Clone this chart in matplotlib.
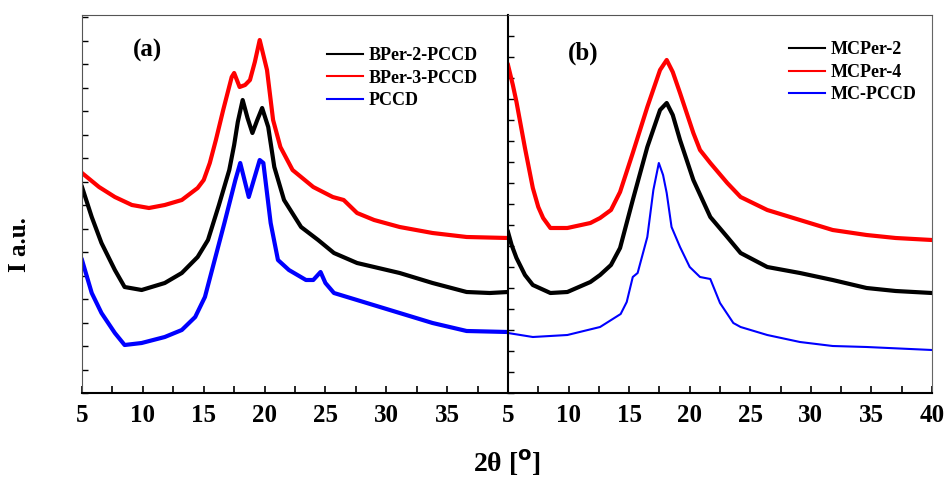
import numpy as np
import matplotlib
matplotlib.use("Agg")
import matplotlib.pyplot as plt
from matplotlib.ticker import MultipleLocator

plt.rcParams['font.family'] = ['Liberation Serif', 'DejaVu Serif']
plt.rcParams['font.weight'] = 'bold'

# panel (a)
a_bper2_x = [5, 5.8, 6.6, 7.7, 8.5, 9.9, 11.8, 13.2, 14.5, 15.35, 16.25, 17.1, 17.5, 17.8, 18.2,
             18.6, 19.0, 19.4, 19.8, 20.3, 20.8, 21.6, 23.0, 24.4, 25.7, 27.6, 31.1, 33.8, 36.6, 38.5, 40]
a_bper2_y = [206, 176, 150, 123, 106, 103, 110, 120, 136, 153, 188, 223, 248, 271, 293,
             275, 260, 273, 285, 266, 226, 193, 166, 153, 140, 130, 120, 110, 101, 100, 101]

a_bper3_x = [5, 6.4, 7.7, 9.1, 10.5, 11.8, 13.2, 14.5, 15.0, 15.5, 16.0, 16.6, 17.3, 17.5, 17.95, 18.4,
             18.8, 19.2, 19.6, 20.2, 20.7, 21.3, 22.3, 24.0, 25.6, 26.5, 27.6, 29.0, 31.1, 33.8, 36.6, 40]
a_bper3_y = [220, 206, 196, 188, 185, 188, 193, 205, 213, 230, 253, 283, 316, 320, 306, 308,
             313, 331, 353, 323, 273, 246, 223, 206, 196, 193, 180, 173, 166, 160, 156, 155]

a_pccd_x = [5, 5.8, 6.6, 7.7, 8.5, 9.9, 11.8, 13.2, 14.3, 15.1, 15.9, 16.7, 17.6, 18.0, 18.7, 19.6,
            19.9, 20.5, 21.1, 22.0, 23.4, 24.0, 24.6, 25.0, 25.7, 28.4, 31.1, 33.8, 36.6, 40]
a_pccd_y = [133, 100, 80, 60, 48, 50, 56, 63, 76, 96, 133, 170, 213, 230, 196, 233,
            230, 170, 133, 123, 113, 113, 121, 110, 100, 90, 80, 70, 62, 61]

# panel (b)
b_mcper2_x = [5, 5.3, 5.7, 6.4, 7.05, 8.5, 9.9, 11.8, 12.6, 13.5, 14.25, 15.3, 16.5, 17.55, 18.1,
              18.6, 19.2, 20.3, 21.7, 23.1, 24.2, 26.4, 29.1, 31.8, 34.6, 37, 40]
b_mcper2_y = [161, 148, 135, 118, 108, 100, 101, 111, 118, 128, 145, 193, 246, 283, 290,
              278, 253, 213, 176, 156, 140, 126, 120, 113, 105, 102, 100]

b_mcper4_x = [5, 5.4, 5.7, 6.4, 7.05, 7.5, 7.9, 8.5, 9.9, 11.8, 12.6, 13.5, 14.25, 15.3, 16.5,
              17.55, 18.1, 18.6, 19.2, 20.3, 20.85, 21.7, 23.1, 24.2, 26.4, 29.1, 31.8, 34.6, 37, 40]
b_mcper4_y = [328, 308, 291, 245, 205, 186, 175, 165, 165, 170, 175, 183, 201, 240, 286,
              323, 333, 321, 300, 260, 243, 230, 210, 196, 183, 173, 163, 158, 155, 153]

b_mcpccd_x = [5, 7.05, 9.9, 12.6, 14.3, 14.8, 15.3, 15.7, 16.5, 17.0, 17.45, 17.8, 18.1, 18.5,
              19.2, 20.0, 20.85, 21.7, 22.5, 23.6, 24.2, 26.4, 29.1, 31.8, 34.6, 40]
b_mcpccd_y = [60, 56, 58, 66, 79, 91, 116, 120, 156, 203, 230, 218, 200, 166,
              146, 126, 116, 114, 90, 70, 66, 58, 51, 47, 46, 43]

fig = plt.figure(figsize=(9.46, 4.8), dpi=100)
ax1 = fig.add_axes([82 / 946, 87 / 480, 426 / 946, 378 / 480])
ax2 = fig.add_axes([508 / 946, 87 / 480, 424 / 946, 378 / 480])

ax1.plot(a_bper2_x, a_bper2_y, color='black', lw=3, label='BPer-2-PCCD')
ax1.plot(a_bper3_x, a_bper3_y, color='#ff0000', lw=3, label='BPer-3-PCCD')
ax1.plot(a_pccd_x, a_pccd_y, color='#0000ff', lw=3, label='PCCD')

ax2.plot(b_mcper2_x, b_mcper2_y, color='black', lw=3, label='MCPer-2')
ax2.plot(b_mcper4_x, b_mcper4_y, color='#ff0000', lw=3, label='MCPer-4')
ax2.plot(b_mcpccd_x, b_mcpccd_y, color='#0000ff', lw=1.5, label='MC-PCCD')

for ax in (ax1, ax2):
    ax.set_xlim(5, 40)
    ax.set_ylim(0, 378)
    ax.xaxis.set_major_locator(MultipleLocator(5))
    ax.xaxis.set_minor_locator(MultipleLocator(2.5))
    ax.tick_params(axis='x', which='both', direction='in', length=5, width=1.2,
                   labelsize=18, pad=8)
    ax.tick_params(axis='y', which='both', direction='in', length=4, width=1,
                   labelleft=False, right=False)
    ax.spines['top'].set_color('#555555')
    ax.spines['bottom'].set_linewidth(1.5)

ax1.set_yticks(np.arange(0, 378, 23.5))
ax2.set_yticks(np.arange(0, 378, 21))
ax1.set_xticks([5, 10, 15, 20, 25, 30, 35])
ax1.set_xticks(np.arange(7.5, 40, 2.5), minor=True)
ax1.set_xticklabels(['5', '10', '15', '20', '25', '30', '35'], fontweight='bold')
ax2.set_xticklabels([str(int(v)) for v in ax2.get_xticks()], fontweight='bold')

ax1.spines['left'].set_color('#555555')
ax1.spines['right'].set_visible(False)
ax2.spines['left'].set_color('black')
ax2.spines['left'].set_linewidth(1.5)
ax2.spines['right'].set_color('#666666')

ax1.text(0.153, 0.905, '(a)', transform=ax1.transAxes, fontsize=18,
         fontweight='bold', ha='center', va='center')
ax2.text(0.177, 0.9, '(b)', transform=ax2.transAxes, fontsize=18,
         fontweight='bold', ha='center', va='center')

for ax, anchor in ((ax1, (0.575, 0.915)), (ax2, (0.663, 0.93))):
    leg = ax.legend(loc='upper left', bbox_to_anchor=anchor, frameon=False,
                    prop={'weight': 'bold', 'size': 13}, handlelength=2.0,
                    handletextpad=0.3, labelspacing=0.3, borderpad=0, borderaxespad=0)
    for ln in leg.get_lines():
        ln.set_linewidth(1.5)

fig.text(0.536, 0.035, '2θ [$^{\\mathbf{o}}$]', fontsize=20, fontweight='bold',
         ha='center', va='center')
fig.text(0.021, 0.49, 'I a.u.', fontsize=18, fontweight='bold', rotation=90,
         ha='center', va='center')

fig.savefig('out.png', dpi=100)
